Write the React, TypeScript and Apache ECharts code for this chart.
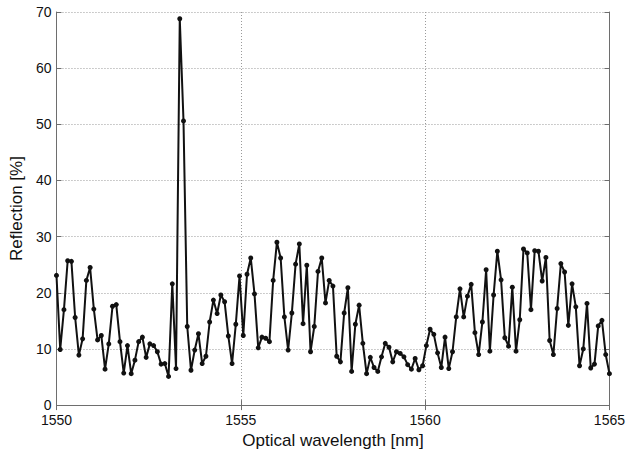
import React, { useEffect, useRef } from "react";
import * as echarts from "echarts";

const WAVELENGTH_START = 1550;
const WAVELENGTH_END = 1565;
const X_TICKS = [1550, 1555, 1560, 1565];
const Y_TICKS = [0, 10, 20, 30, 40, 50, 60, 70];

const reflection = [
  23.1, 9.9, 17.0, 25.7, 25.6, 15.6, 8.9, 11.8, 22.2, 24.5,
  17.1, 11.6, 12.4, 6.4, 10.9, 17.6, 17.9, 11.3, 5.7, 10.6,
  5.6, 8.0, 11.3, 12.1, 8.5, 10.9, 10.6, 9.5, 7.3, 7.4,
  5.1, 21.6, 6.5, 68.8, 50.6, 14.0, 6.2, 9.8, 12.7, 7.4,
  8.7, 14.8, 18.7, 16.3, 19.6, 18.4, 12.3, 7.4, 14.4, 23.0,
  12.4, 23.3, 26.2, 19.8, 10.2, 12.1, 11.9, 11.3, 22.2, 29.0,
  26.2, 15.7, 9.8, 16.4, 25.1, 28.7, 14.5, 24.9, 9.5, 14.0,
  23.8, 26.2, 18.2, 22.2, 21.2, 8.7, 7.7, 16.4, 20.9, 6.0,
  14.4, 17.8, 11.0, 5.6, 8.5, 6.7, 6.0, 8.6, 11.0, 10.3,
  7.7, 9.5, 9.2, 8.6, 7.2, 6.4, 8.3, 6.3, 7.0, 10.6,
  13.5, 12.6, 9.3, 6.7, 12.1, 6.5, 9.5, 15.7, 20.7, 15.7,
  19.4, 21.5, 12.9, 9.0, 14.8, 24.1, 9.6, 19.6, 27.4, 22.3,
  12.0, 10.5, 21.0, 9.6, 15.2, 27.8, 27.1, 17.0, 27.5, 27.4,
  22.1, 26.3, 11.5, 9.0, 17.2, 25.2, 23.7, 14.2, 21.6, 17.5,
  7.0, 10.0, 18.1, 6.6, 7.3, 14.1, 15.1, 9.0, 5.6,
];

const FONT = "'Liberation Sans', Arial, Helvetica, sans-serif";

export default function App() {
  const ref = useRef<HTMLDivElement>(null);

  useEffect(() => {
    if (!ref.current) return;
    const chart = echarts.init(ref.current, undefined, { renderer: "svg" });
    const n = reflection.length;
    const step = (WAVELENGTH_END - WAVELENGTH_START) / (n - 1);
    const data = reflection.map((v, i) => [WAVELENGTH_START + i * step, v]);

    const frameColor = "#6e6e6e";
    const gridLine = { show: true, lineStyle: { color: "#9a9a9a", type: [1, 2], width: 1 } };
    const plain = (v: number) => String(v);

    chart.setOption({
      animation: false,
      backgroundColor: "#ffffff",
      grid: { left: 55, right: 16, top: 12, bottom: 47, containLabel: false },
      xAxis: [
        {
          type: "value",
          min: X_TICKS[0],
          max: X_TICKS[X_TICKS.length - 1],
          interval: 5,
          position: "bottom",
          name: "Optical wavelength [nm]",
          nameLocation: "middle",
          nameGap: 25,
          nameTextStyle: { fontFamily: FONT, fontSize: 17, color: "#111" },
          axisLine: { show: true, lineStyle: { color: frameColor, width: 1 } },
          axisTick: { show: true, inside: true, length: 5, lineStyle: { color: frameColor } },
          axisLabel: { fontFamily: FONT, fontSize: 14, lineHeight: 12, color: "#111", margin: 9, formatter: plain },
          splitLine: gridLine,
        },
        {
          type: "value",
          min: X_TICKS[0],
          max: X_TICKS[X_TICKS.length - 1],
          interval: 5,
          position: "top",
          axisLine: { show: true, lineStyle: { color: frameColor, width: 1 } },
          axisTick: { show: true, inside: true, length: 5, lineStyle: { color: frameColor } },
          axisLabel: { show: false },
          splitLine: { show: false },
        },
      ],
      yAxis: [
        {
          type: "value",
          min: Y_TICKS[0],
          max: Y_TICKS[Y_TICKS.length - 1],
          interval: 10,
          position: "left",
          name: "Reflection [%]",
          nameLocation: "middle",
          nameGap: 30,
          nameTextStyle: { fontFamily: FONT, fontSize: 17, color: "#111" },
          axisLine: { show: true, lineStyle: { color: frameColor, width: 1 } },
          axisTick: { show: true, inside: true, length: 5, lineStyle: { color: frameColor } },
          axisLabel: { fontFamily: FONT, fontSize: 14, lineHeight: 12, color: "#111", margin: 5, formatter: plain },
          splitLine: gridLine,
        },
        {
          type: "value",
          min: Y_TICKS[0],
          max: Y_TICKS[Y_TICKS.length - 1],
          interval: 10,
          position: "right",
          axisLine: { show: true, lineStyle: { color: frameColor, width: 1 } },
          axisTick: { show: true, inside: true, length: 5, lineStyle: { color: frameColor } },
          axisLabel: { show: false },
          splitLine: { show: false },
        },
      ],
      series: [
        {
          type: "line",
          xAxisIndex: 0,
          yAxisIndex: 0,
          data,
          symbol: "circle",
          symbolSize: 5,
          showSymbol: true,
          lineStyle: { color: "#111", width: 2 },
          itemStyle: { color: "#111" },
        },
      ],
    });
    return () => chart.dispose();
  }, []);

  return <div ref={ref} style={{ width: 628, height: 454, position: "absolute", left: 0, top: 0 }} />;
}
